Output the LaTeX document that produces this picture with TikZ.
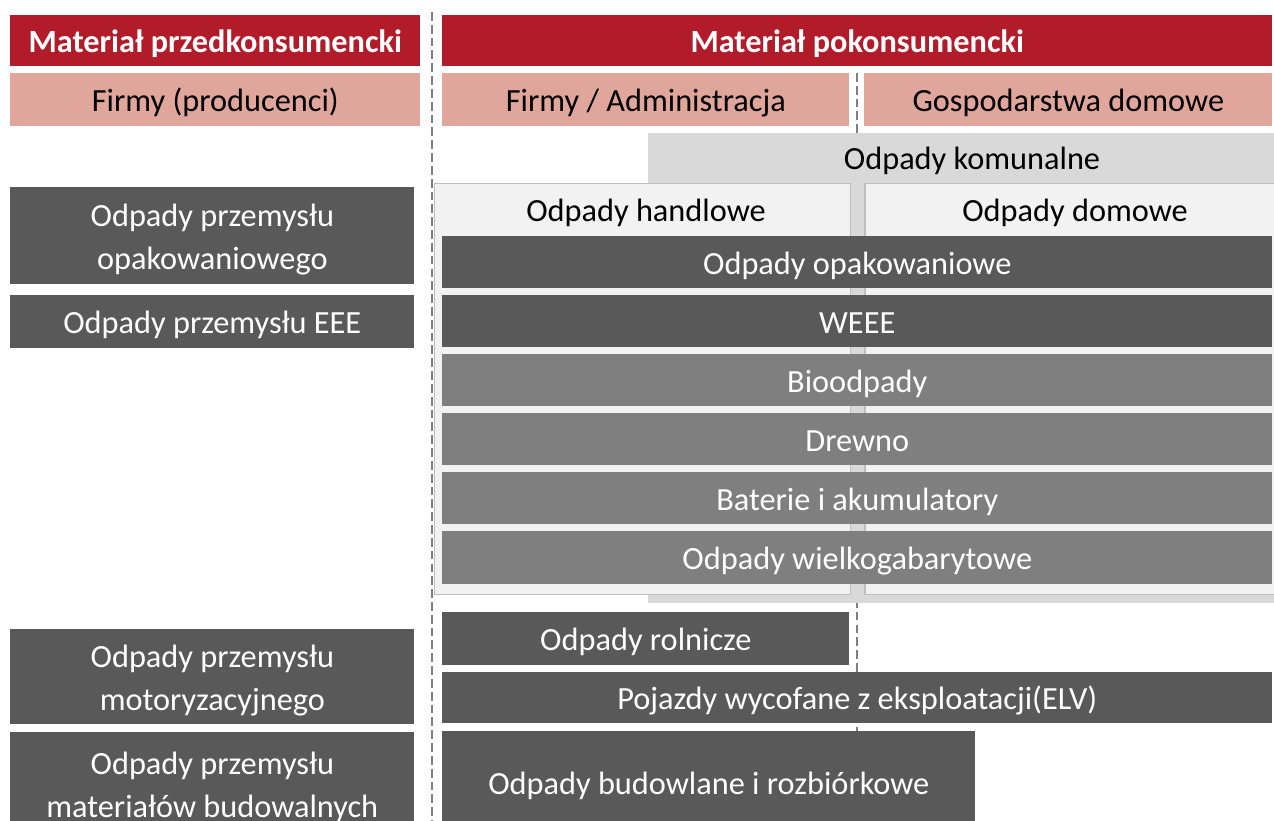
\documentclass[tikz,border=0pt]{standalone}
\usepackage{fontspec}
\setmainfont{Carlito}
\usepackage{xcolor}
\usepackage{tikz}

\definecolor{hdrred}{RGB}{178,27,41}
\definecolor{salmon}{RGB}{224,166,155}
\definecolor{darkgrey}{RGB}{89,89,89}
\definecolor{midgrey}{RGB}{127,127,127}
\definecolor{komgrey}{RGB}{217,217,217}
\definecolor{panelgrey}{RGB}{242,242,242}
\definecolor{rimgrey}{RGB}{191,191,191}

\begin{document}
\begin{tikzpicture}[x=0.02cm, y=-0.02cm,
  every node/.style={font=\fontsize{18.4}{24.6}\selectfont, text height=13.6pt, text depth=0pt},
  box/.style={rectangle, anchor=north west, inner sep=0pt, align=center},
  twoline/.style={text height=38.2pt, text depth=0pt},
  header/.style={box, fill=hdrred, text=white, font=\fontsize{18.4}{24.6}\selectfont\bfseries},
  sector/.style={box, fill=salmon},
  darkbar/.style={box, fill=darkgrey, text=white},
  lightbar/.style={box, fill=midgrey, text=white},
  panel/.style={box, fill=panelgrey, draw=rimgrey, line width=0.85pt},
  separator/.style={draw=midgrey, line width=0.8pt, dash pattern=on 5pt off 2.3pt}]
\useasboundingbox (0,0) rectangle (1274,821);

% separators
\coordinate (sepLtop) at (432,12);
\coordinate (sepLbot) at (432,821);
\coordinate (sepRtop) at (857,73);
\coordinate (sepRbot) at (857,735);
\draw[separator] (sepLtop) -- (sepLbot);
\draw[separator] (sepRtop) -- (sepRbot);

% headers
\node (headPre) [header, minimum width=8.2cm, minimum height=1.02cm] at (10,15) {Materiał przedkonsumencki};
\node (headPost) [header, minimum width=16.6cm, minimum height=1.02cm] at (442,15) {Materiał pokonsumencki};
\node (firmy) [sector, minimum width=8.2cm, minimum height=1.06cm] at (10,73) {Firmy (producenci)};
\node (admin) [sector, minimum width=8.14cm, minimum height=1.06cm] at (442,73) {Firmy / Administracja};
\node (gosp) [sector, minimum width=8.16cm, minimum height=1.06cm] at (864,73) {Gospodarstwa domowe};

% municipal waste panels
\node (komunalne) [box, fill=komgrey, minimum width=12.6cm, minimum height=9.4cm] at (648,133) {};
\node (komunalneTxt) at (972,158) {Odpady komunalne};
\node (handlowe) [panel, minimum width=8.32cm, minimum height=8.22cm] at (434,183) {};
\node (handloweTxt) at (646,210) {Odpady handlowe};
\node (domowe) [panel, minimum width=8.4cm, minimum height=8.22cm] at (864,183) {};
\node (domoweTxt) at (1075,210) {Odpady domowe};

% waste streams
\node (opak) [darkbar, minimum width=16.6cm, minimum height=1.04cm] at (442,236) {Odpady opakowaniowe};
\node (weee) [darkbar, minimum width=16.6cm, minimum height=1.04cm] at (442,295) {WEEE};
\node (bio) [lightbar, minimum width=16.6cm, minimum height=1.04cm] at (442,354) {Bioodpady};
\node (drewno) [lightbar, minimum width=16.6cm, minimum height=1.04cm] at (442,413) {Drewno};
\node (baterie) [lightbar, minimum width=16.6cm, minimum height=1.04cm] at (442,472) {Baterie i akumulatory};
\node (wielko) [lightbar, minimum width=16.6cm, minimum height=1.06cm] at (442,531) {Odpady wielkogabarytowe};
\node (rolnicze) [darkbar, minimum width=8.14cm, minimum height=1.06cm] at (442,612) {Odpady rolnicze};
\node (pojazdy) [darkbar, minimum width=16.6cm, minimum height=1.02cm] at (442,672) {Pojazdy wycofane z eksploatacji(ELV)};
\node (budowlane) [darkbar, minimum width=10.66cm, minimum height=2.04cm] at (442,731) {Odpady budowlane i rozbiórkowe};

% industry sources
\node (przemOpak) [darkbar, twoline, minimum width=8.08cm, minimum height=1.94cm] at (10,187) {Odpady przemysłu\\opakowaniowego};
\node (przemEEE) [darkbar, minimum width=8.08cm, minimum height=1.06cm] at (10,295) {Odpady przemysłu EEE};
\node (przemMoto) [darkbar, twoline, minimum width=8.08cm, minimum height=1.9cm] at (10,629) {Odpady przemysłu\\motoryzacyjnego};
\node (przemBud) [darkbar, twoline, minimum width=8.08cm, minimum height=2.06cm] at (10,732) {Odpady przemysłu\\materiałów budowalnych};
\end{tikzpicture}
\end{document}
